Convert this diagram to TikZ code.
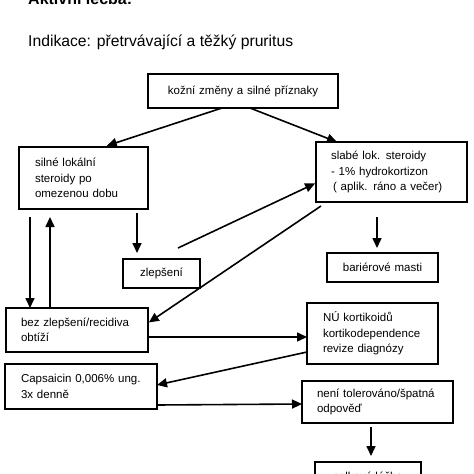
\documentclass[tikz,border=0pt]{standalone}
\usepackage{fontspec}
\setmainfont{Liberation Sans}
\usetikzlibrary{arrows.meta,calc}
\newcommand{\boxfont}{\fontsize{11.5}{15.5}\selectfont}
\tikzset{
  box/.style={draw, line width=1.6pt, anchor=north west, font=\boxfont, inner ysep=0pt, outer sep=0pt},
  lbox/.style={box, align=left},
  cbox/.style={box, align=center},
  arr/.style={-{Triangle[length=10pt,width=9pt]}, line width=1.6pt},
  plain/.style={anchor=base west, inner sep=0pt}
}
\begin{document}
\begin{tikzpicture}[x=1pt,y=-1pt]
\useasboundingbox (0,0) rectangle (474,474);
\clip (0,0) rectangle (474,474);
% titles
\node[plain, font=\fontsize{16}{19}\selectfont\bfseries] (title) at (28,4.5) {Aktivní léčba:};
\node[plain, font=\fontsize{15.7}{19}\selectfont] (indik) at (28,46.5) {Indikace: přetrvávající a těžký pruritus};
% boxes
\node[cbox, minimum width=190pt, minimum height=34pt, text width=180pt, inner xsep=5pt] (kozni) at (148,74) {kožní změny a silné příznaky};
\node[lbox, minimum width=129pt, minimum height=62pt, text width=97pt, inner xsep=16pt] (silne) at (19,147) {silné lokální\\steroidy po\\omezenou dobu};
\node[lbox, minimum width=151pt, minimum height=60pt, text width=121pt, inner xsep=15pt] (slabe) at (316,142) {slabé lok. steroidy\\- 1\% hydrokortizon\\\hspace{2pt}( aplik. ráno a večer)};
\node[cbox, minimum width=77pt, minimum height=29pt, text width=71pt, inner xsep=3pt] (zlep) at (123,259) {zlepšení};
\node[cbox, minimum width=111pt, minimum height=29pt, text width=105pt, inner xsep=3pt] (bari) at (327,253) {bariérové masti};
\node[lbox, minimum width=142pt, minimum height=44pt, text width=112pt, inner xsep=15pt] (bez) at (6,308) {bez zlepšení/recidiva\\obtíží};
\node[lbox, minimum width=131pt, minimum height=61pt, text width=99pt, inner xsep=16pt] (nu) at (307,303) {NÚ kortikoidů\\kortikodependence\\revize diagnózy};
\node[lbox, minimum width=152pt, minimum height=45pt, text width=120pt, inner xsep=16pt] (caps) at (5,364) {Capsaicin 0,006\% ung.\\3x denně};
\node[lbox, minimum width=151pt, minimum height=42pt, text width=121pt, inner xsep=15pt] (neni) at (302,381) {není tolerováno/špatná\\odpověď};
\node[box, minimum width=106pt, minimum height=34pt] (celk) at (315,462) {};
\node[font=\boxfont, anchor=base] (celkt) at ($(celk.north)+(0,18.5)$) {celková léčba};
% connectors
\draw[arr, shorten >=4pt] ($(kozni.south west)+(74,0)$) -- ($(silne.north west)+(84,0)$);
\draw[arr] ($(kozni.south west)+(102,0)$) -- ($(slabe.north west)+(21,0)$);
\draw[arr, shorten >=6pt] ($(silne.south west)+(118,4)$) -- ($(zlep.north west)+(14,0)$);
\draw[arr] ($(silne.south west)+(11,8)$) -- ($(bez.north west)+(24,0)$);
\draw[arr, shorten >=8pt] ($(bez.north west)+(44,0)$) -- ($(silne.south west)+(31,0)$);
\draw[arr, shorten >=1pt] ($(zlep.north east)+(-22,-11)$) -- ($(slabe.north west)+(0,41)$);
\draw[arr, shorten >=1pt] ($(slabe.south west)+(5,4)$) -- ($(bez.north east)+(0,15)$);
\draw[arr, shorten >=5pt] ($(slabe.south west)+(61,15)$) -- ($(bari.north west)+(50,0)$);
\draw[arr] ($(bez.north east)+(0,29)$) -- ($(nu.north west)+(0,34)$);
\draw[arr] ($(nu.north west)+(0,49)$) -- ($(caps.north east)+(0,21)$);
\draw[arr] ($(caps.north east)+(0,41)$) -- ($(neni.north west)+(0,23)$);
\draw[arr, shorten >=6pt] ($(neni.south west)+(69,4)$) -- ($(celk.north west)+(56,0)$);
\end{tikzpicture}
\end{document}
